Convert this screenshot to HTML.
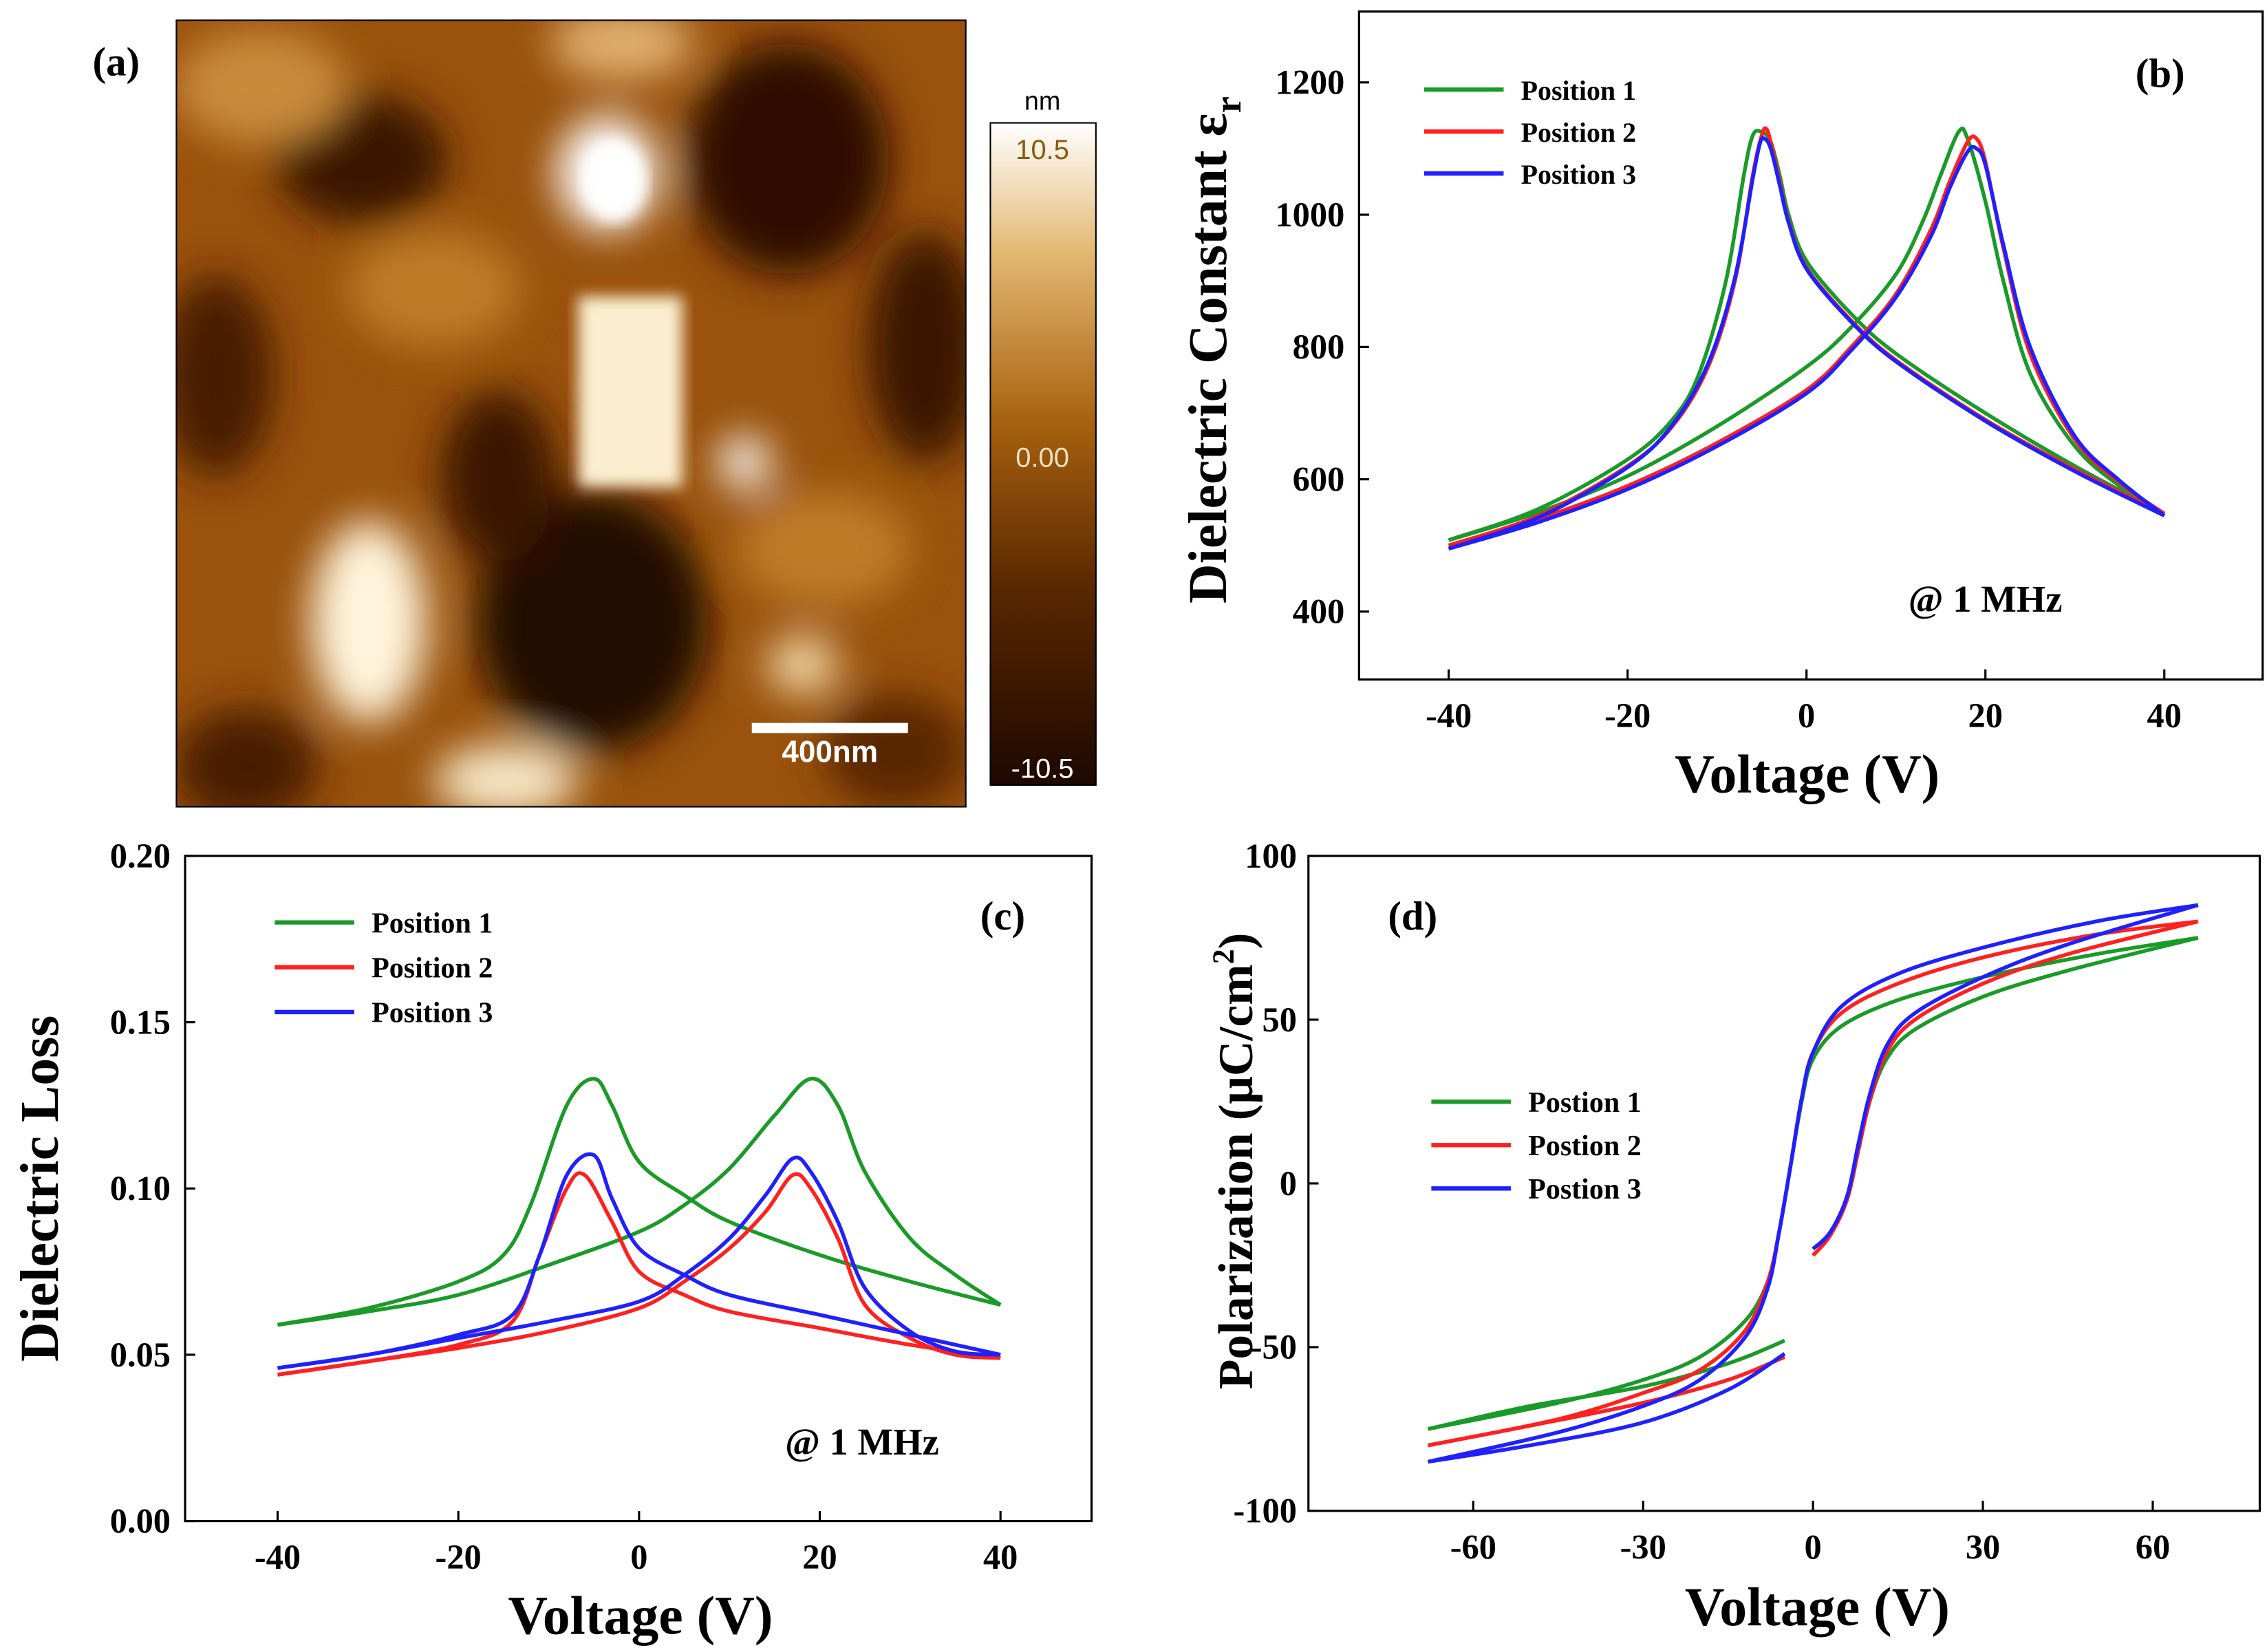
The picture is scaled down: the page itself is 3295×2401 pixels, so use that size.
<!DOCTYPE html>
<html><head><meta charset="utf-8"><style>
html,body{margin:0;padding:0;background:#fff}
svg{display:block;font-family:"Liberation Serif",serif;font-weight:bold}
</style></head><body>
<svg id="fig" width="3295" height="2401" viewBox="0 0 1568 1142.6" xmlns="http://www.w3.org/2000/svg">
<defs>
<filter id="blur" x="-20%" y="-20%" width="140%" height="140%"><feGaussianBlur stdDeviation="14"/></filter>
<filter id="blur2"><feGaussianBlur stdDeviation="5"/></filter>
<clipPath id="afmclip"><rect x="122" y="14" width="546" height="544"/></clipPath>
<linearGradient id="cbar" x1="0" y1="1" x2="0" y2="0">
<stop offset="0" stop-color="#1e0800"/><stop offset="0.3" stop-color="#5a2800"/><stop offset="0.55" stop-color="#a8620f"/><stop offset="0.8" stop-color="#e2b670"/><stop offset="1" stop-color="#ffffff"/>
</linearGradient>
</defs>
<g>
<g clip-path="url(#afmclip)">
<rect x="122" y="14" width="546" height="544" fill="#9a520c"/>
<g filter="url(#blur)">
<ellipse cx="250" cy="110" rx="60" ry="45" fill="#3a1500"/>
<ellipse cx="545" cy="110" rx="70" ry="80" fill="#2e1000"/>
<ellipse cx="410" cy="430" rx="80" ry="90" fill="#200800"/>
<ellipse cx="345" cy="330" rx="40" ry="60" fill="#3a1500"/>
<ellipse cx="150" cy="260" rx="40" ry="70" fill="#4a1e00"/>
<ellipse cx="640" cy="240" rx="40" ry="80" fill="#3a1500"/>
<ellipse cx="170" cy="530" rx="50" ry="40" fill="#4a1e00"/>
<ellipse cx="620" cy="520" rx="50" ry="40" fill="#5a2800"/>
<ellipse cx="300" cy="200" rx="60" ry="40" fill="#c07a28"/>
<ellipse cx="180" cy="60" rx="60" ry="40" fill="#c88a3a"/>
<ellipse cx="570" cy="380" rx="60" ry="40" fill="#c07a28"/>
<ellipse cx="430" cy="30" rx="50" ry="25" fill="#e0b070"/>
<ellipse cx="255" cy="430" rx="40" ry="70" fill="#fff4dc"/>
<ellipse cx="350" cy="540" rx="50" ry="25" fill="#f8e8c8"/>
<ellipse cx="515" cy="320" rx="18" ry="18" fill="#ffffff"/>
<ellipse cx="555" cy="460" rx="25" ry="20" fill="#f2d8a8"/>
<ellipse cx="420" cy="120" rx="35" ry="40" fill="#ffffff"/>
</g>
<rect x="400" y="205" width="72" height="132" fill="#fbeed0" filter="url(#blur2)"/>
<ellipse cx="425" cy="125" rx="22" ry="28" fill="#fff" filter="url(#blur2)"/>
</g>
<rect x="122" y="14" width="546" height="544" fill="none" stroke="#000" stroke-width="1"/>
<text x="64" y="52" font-size="28" fill="#000">(a)</text>
<rect x="520" y="500" width="108" height="7" fill="#fff"/>
<text x="574" y="527" font-size="21" fill="#fff" text-anchor="middle" font-family="Liberation Sans,sans-serif">400nm</text>
<rect x="685" y="85" width="73" height="458" fill="url(#cbar)" stroke="#000" stroke-width="1"/>
<text x="721" y="76" font-size="18" text-anchor="middle" font-weight="normal" font-family="Liberation Sans,sans-serif">nm</text>
<text x="721" y="110" font-size="19" text-anchor="middle" font-weight="normal" fill="#8a5a10" font-family="Liberation Sans,sans-serif">10.5</text>
<text x="721" y="323" font-size="19" text-anchor="middle" font-weight="normal" fill="#f0e0c0" font-family="Liberation Sans,sans-serif">0.00</text>
<text x="721" y="538" font-size="19" text-anchor="middle" font-weight="normal" fill="#fff" font-family="Liberation Sans,sans-serif">-10.5</text>
</g>
<g id="charts"></g>
</svg>
<script>
// ---- Panel (b) data ----
const bXTicks=[-40,-20,0,20,40];
const bYTicks=[400,600,800,1000,1200];
const bG1V=[-40,-30,-20,-10,0,5,10,13,15,17,18,20,22,25,30,35,40];
const bG1E=[508,550,605,680,770,830,910,990,1060,1125,1115,1020,900,760,650,590,548];
const bG2V=[40,30,20,10,5,0,-2,-3,-4,-5,-6,-7,-9,-12,-15,-20,-30,-40];
const bG2E=[548,620,700,790,850,930,1000,1060,1110,1125,1120,1060,900,760,690,630,555,508];
const bR1V=[-40,-30,-20,-10,0,5,10,14,16,18,19,20,22,25,30,35,40];
const bR1E=[500,540,590,655,735,800,880,980,1050,1110,1115,1080,950,790,660,595,548];
const bR2V=[40,30,20,10,5,0,-2,-3,-4,-4.5,-5,-6,-8,-11,-15,-20,-30,-40];
const bR2E=[548,615,690,780,840,920,990,1050,1110,1130,1120,1060,900,770,680,620,545,500];
const bB1V=[-40,-30,-20,-10,0,5,10,14,16,18,19,20,22,25,30,35,40];
const bB1E=[495,535,585,650,730,795,875,970,1040,1095,1100,1075,955,800,665,598,545];
const bB2V=[40,30,20,10,5,0,-2,-3,-4,-4.7,-5.2,-6,-8,-11,-15,-20,-30,-40];
const bB2E=[545,612,688,778,838,918,988,1045,1100,1115,1108,1055,905,775,682,618,542,495];
// ---- Panel (c) data ----
const cXTicks=[-40,-20,0,20,40];
const cYTicks=[0.00,0.05,0.10,0.15,0.20];
const cG1V=[-40,-30,-20,-10,0,5,10,15,19,22,25,30,35,40];
const cG1L=[0.059,0.063,0.068,0.077,0.087,0.095,0.106,0.122,0.133,0.125,0.105,0.085,0.074,0.065];
const cG2V=[40,30,20,10,5,0,-3,-5,-8,-12,-15,-20,-30,-40];
const cG2L=[0.065,0.072,0.080,0.090,0.098,0.108,0.125,0.133,0.125,0.095,0.080,0.072,0.064,0.059];
const cR1V=[-40,-30,-20,-10,0,5,10,14,17,19,22,25,30,35,40];
const cR1L=[0.044,0.048,0.052,0.057,0.064,0.072,0.082,0.093,0.104,0.100,0.085,0.065,0.055,0.050,0.049];
const cR2V=[40,30,20,10,5,0,-3,-6,-8,-11,-14,-20,-30,-40];
const cR2L=[0.049,0.053,0.058,0.063,0.068,0.075,0.090,0.104,0.100,0.080,0.060,0.053,0.048,0.044];
const cB1V=[-40,-30,-20,-10,0,5,10,14,17,19,22,25,30,35,40];
const cB1L=[0.046,0.050,0.055,0.060,0.066,0.074,0.085,0.098,0.109,0.105,0.090,0.070,0.057,0.051,0.050];
const cB2V=[40,30,20,10,5,0,-3,-5,-8,-11,-14,-20,-30,-40];
const cB2L=[0.050,0.056,0.062,0.068,0.074,0.082,0.097,0.110,0.104,0.080,0.062,0.056,0.050,0.046];
// ---- Panel (d) data ----
const dXTicks=[-60,-30,0,30,60];
const dYTicks=[-100,-50,0,50,100];
const dGuV=[68,50,30,15,5,0,-2,-4,-6,-8,-12,-20,-30,-45,-68];
const dGuP=[75,70,63,56,48,38,25,5,-15,-30,-42,-53,-60,-67,-75];
const dGlV=[-68,-50,-30,-15,-5];
const dGlP=[-75,-68,-62,-55,-48];
const dGrV=[0,3,6,8,10,13,18,30,45,68];
const dGrP=[-20,-15,-5,10,25,38,47,57,65,75];
const dRuV=[68,50,30,15,5,0,-2,-4,-6,-8,-12,-20,-30,-45,-68];
const dRuP=[80,76,69,61,52,40,26,5,-15,-30,-45,-57,-64,-72,-80];
const dRlV=[-68,-50,-30,-15,-5];
const dRlP=[-80,-74,-67,-60,-53];
const dRrV=[0,3,6,8,10,13,18,30,45,68];
const dRrP=[-22,-16,-5,10,25,40,50,61,70,80];
const dBuV=[68,50,30,15,5,0,-2,-4,-6,-8,-12,-20,-30,-45,-68];
const dBuP=[85,80,72,64,54,40,26,5,-15,-32,-47,-60,-68,-76,-85];
const dBlV=[-68,-50,-30,-15,-5];
const dBlP=[-85,-80,-73,-63,-52];
const dBrV=[0,3,6,8,10,13,18,30,45,68];
const dBrP=[-20,-15,-4,12,27,42,52,63,73,85];

const NS='http://www.w3.org/2000/svg';
const root=document.getElementById('charts');
const GREEN='#1a9a28',RED='#ff2020',BLUE='#2020ff';
function mk(tag,attrs,parent,text){const e=document.createElementNS(NS,tag);for(const k in attrs)e.setAttribute(k,attrs[k]);if(text!==undefined)e.textContent=text;(parent||root).appendChild(e);return e;}
function lin(d0,d1,r0,r1){return v=>r0+(v-d0)*(r1-r0)/(d1-d0);}
function smooth(pts){let d='M'+pts[0][0]+','+pts[0][1];for(let i=0;i<pts.length-1;i++){const p0=pts[Math.max(0,i-1)],p1=pts[i],p2=pts[i+1],p3=pts[Math.min(pts.length-1,i+2)];const c1=[p1[0]+(p2[0]-p0[0])/6,p1[1]+(p2[1]-p0[1])/6],c2=[p2[0]-(p3[0]-p1[0])/6,p2[1]-(p3[1]-p1[1])/6];d+='C'+c1[0]+','+c1[1]+' '+c2[0]+','+c2[1]+' '+p2[0]+','+p2[1];}return d;}
function curve(g,xs,ys,sx,sy,color,name){const pts=xs.map((v,i)=>[sx(v),sy(ys[i])]);const p=mk('path',{d:smooth(pts),fill:'none',stroke:color,'stroke-width':2.6,'stroke-linejoin':'round'},g);}
function axes(g,box,sx,sy,xt,yt,xfmt,yfmt,prefix,ylx){
 const r=mk('rect',{x:box.x0,y:box.y0,width:box.x1-box.x0,height:box.y1-box.y0,fill:'none',stroke:'#000','stroke-width':1.5},g);
 
 xt.forEach(v=>{const x=sx(v);mk('line',{x1:x,x2:x,y1:box.y1,y2:box.y1-7,stroke:'#000','stroke-width':1.5},g);
  const t=mk('text',{x:x,y:box.y1+33,'font-size':24,'text-anchor':'middle'},g,xfmt(v));});
 yt.forEach(v=>{const y=sy(v);mk('line',{x1:box.x0,x2:box.x0+7,y1:y,y2:y,stroke:'#000','stroke-width':1.5},g);
  const t=mk('text',{x:box.x0-(ylx||10),y:y+8,'font-size':24,'text-anchor':'end'},g,yfmt(v));});
}
function legend(g,x,y,dy,labels,colors,fs,prefix){labels.forEach((l,i)=>{const gg=mk('g',{},g);
 mk('line',{x1:x,x2:x+55,y1:y+i*dy,y2:y+i*dy,stroke:colors[i],'stroke-width':3},gg);mk('text',{x:x+67,y:y+i*dy+7,'font-size':fs},gg,l);});}
const ident=v=>String(v);

// Panel b
{const g=mk('g',{});
 const box={x0:940,x1:1565,y0:8,y1:470};const sx=lin(-40,40,1002,1497),sy=lin(400,1200,423,57);
 axes(g,box,sx,sy,bXTicks,bYTicks,ident,ident,'b');
 curve(g,bG1V,bG1E,sx,sy,GREEN,'b-pos1-forward');curve(g,bG2V,bG2E,sx,sy,GREEN,'b-pos1-reverse');
 curve(g,bR1V,bR1E,sx,sy,RED,'b-pos2-forward');curve(g,bR2V,bR2E,sx,sy,RED,'b-pos2-reverse');
 curve(g,bB1V,bB1E,sx,sy,BLUE,'b-pos3-forward');curve(g,bB2V,bB2E,sx,sy,BLUE,'b-pos3-reverse');
 legend(g,985,62,29,['Position 1','Position 2','Position 3'],[GREEN,RED,BLUE],19,'b');
 let t=mk('text',{x:1477,y:60,'font-size':28},g,'(b)');
 t=mk('text',{x:1320,y:423,'font-size':26},g,'@ 1 MHz');
 t=mk('text',{x:1250,y:548,'font-size':38,'text-anchor':'middle'},g,'Voltage (V)');
 t=mk('text',{x:0,y:0,'font-size':38,'text-anchor':'middle',transform:'translate(848,242) rotate(-90)'},g);
 t.appendChild(document.createTextNode('Dielectric Constant ε'));mk('tspan',{'font-size':26,dy:10},t,'r');}
// Panel c
{const g=mk('g',{});
 const box={x0:128,x1:755,y0:592,y1:1052};const sx=lin(-40,40,192,692),sy=lin(0,0.2,1052,592);
 axes(g,box,sx,sy,cXTicks,cYTicks,ident,v=>v.toFixed(2),'c');
 curve(g,cG1V,cG1L,sx,sy,GREEN,'c-pos1-forward');curve(g,cG2V,cG2L,sx,sy,GREEN,'c-pos1-reverse');
 curve(g,cR1V,cR1L,sx,sy,RED,'c-pos2-forward');curve(g,cR2V,cR2L,sx,sy,RED,'c-pos2-reverse');
 curve(g,cB1V,cB1L,sx,sy,BLUE,'c-pos3-forward');curve(g,cB2V,cB2L,sx,sy,BLUE,'c-pos3-reverse');
 legend(g,190,638,31,['Position 1','Position 2','Position 3'],[GREEN,RED,BLUE],20,'c');
 let t=mk('text',{x:678,y:643,'font-size':28},g,'(c)');
 t=mk('text',{x:543,y:1006,'font-size':26},g,'@ 1 MHz');
 t=mk('text',{x:443,y:1130,'font-size':38,'text-anchor':'middle'},g,'Voltage (V)');
 t=mk('text',{x:0,y:0,'font-size':38,'text-anchor':'middle',transform:'translate(40,822) rotate(-90)'},g,'Dielectric Loss');}
// Panel d
{const g=mk('g',{});
 const box={x0:905,x1:1563,y0:592,y1:1045};const sx=lin(-60,60,1019,1489),sy=lin(-100,100,1045,592);
 axes(g,box,sx,sy,dXTicks,dYTicks,ident,ident,'d',8);
 curve(g,dGuV,dGuP,sx,sy,GREEN,'d-pos1-upper');curve(g,dGlV,dGlP,sx,sy,GREEN,'d-pos1-lower');curve(g,dGrV,dGrP,sx,sy,GREEN,'d-pos1-return');
 curve(g,dRuV,dRuP,sx,sy,RED,'d-pos2-upper');curve(g,dRlV,dRlP,sx,sy,RED,'d-pos2-lower');curve(g,dRrV,dRrP,sx,sy,RED,'d-pos2-return');
 curve(g,dBuV,dBuP,sx,sy,BLUE,'d-pos3-upper');curve(g,dBlV,dBlP,sx,sy,BLUE,'d-pos3-lower');curve(g,dBrV,dBrP,sx,sy,BLUE,'d-pos3-return');
 legend(g,990,762,30,['Postion 1','Postion 2','Postion 3'],[GREEN,RED,BLUE],20,'d');
 let t=mk('text',{x:960,y:643,'font-size':28},g,'(d)');
 t=mk('text',{x:1257,y:1124,'font-size':38,'text-anchor':'middle'},g,'Voltage (V)');
 t=mk('text',{x:0,y:0,'font-size':34,'text-anchor':'middle',transform:'translate(866,803) rotate(-90)'},g);
 t.appendChild(document.createTextNode('Polarization (μC/cm'));mk('tspan',{'font-size':21,dy:-13},t,'2');mk('tspan',{dy:13},t,')');}
</script>
</body></html>
